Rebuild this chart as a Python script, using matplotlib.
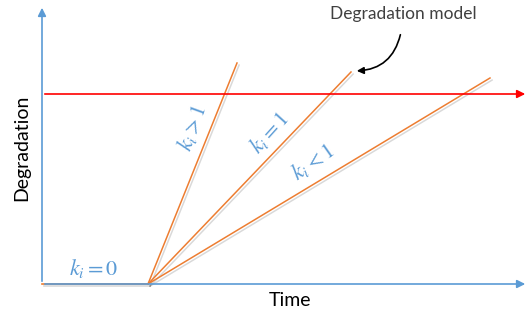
import matplotlib.pyplot as plt
import matplotlib.patheffects as pe

# schematic: degradation vs time, units are roughly pixels from the origin
t_start = 106
flat_t = [0, t_start]
line_ends_t = [195, 309, 448]
line_ends_y = [221, 212, 206]
threshold = 190
x_axis_len = 486
y_axis_len = 279

labels = [r'$k_i = 0$', r'$k_i > 1$', r'$k_i = 1$', r'$k_i < 1$']
label_pos = [(52, 16), (150, 156), (227, 151), (271, 122)]
label_rot = [0, 70, 48, 35]

plt.rcParams['mathtext.fontset'] = 'stix'
plt.rcParams['font.family'] = ['Lato', 'DejaVu Sans']

fig = plt.figure(figsize=(5.29, 3.14), dpi=100)
ax = fig.add_axes([0, 0, 1, 1])
ax.set_xlim(-42, 487)
ax.set_ylim(-30, 284)
ax.axis('off')

blue = '#5b9bd5'
orange = '#ed7d31'
shadow = [pe.SimpleLineShadow(offset=(1.5, -1.5), alpha=0.15), pe.Normal()]

# axes arrows
ax.annotate('', xy=(x_axis_len, 0), xytext=(0, 0),
            arrowprops=dict(arrowstyle='-|>', color=blue, lw=1.2, mutation_scale=12))
ax.annotate('', xy=(0, y_axis_len), xytext=(0, 0),
            arrowprops=dict(arrowstyle='-|>', color=blue, lw=1.2, mutation_scale=12))

# threshold
ax.annotate('', xy=(x_axis_len, threshold), xytext=(0, threshold),
            arrowprops=dict(arrowstyle='-|>', color='red', lw=1.2, mutation_scale=12))

# degradation paths
ax.plot(flat_t, [0, 0], color=orange, lw=1.2, path_effects=shadow)
for te, ye in zip(line_ends_t, line_ends_y):
    ax.plot([t_start, te], [0, ye], color=orange, lw=1.1, path_effects=shadow)

for lab, (x, y), r in zip(labels, label_pos, label_rot):
    ax.text(x, y, lab, color=blue, fontsize=16, rotation=r,
            ha='center', va='center', rotation_mode='anchor')

ax.text(-20, 136, 'Degradation', rotation=90, fontsize=14, ha='center', va='center')
ax.text(248, -16, 'Time', fontsize=14, ha='center', va='center')

ax.text(361, 270, 'Degradation model', fontsize=12.5, color='#404040', ha='center', va='center')
ax.annotate('', xy=(312, 213), xytext=(359, 252),
            arrowprops=dict(arrowstyle='-|>', color='black', lw=1.2,
                            connectionstyle='arc3,rad=-0.4', mutation_scale=10))

fig.savefig('out.png', dpi=100)
